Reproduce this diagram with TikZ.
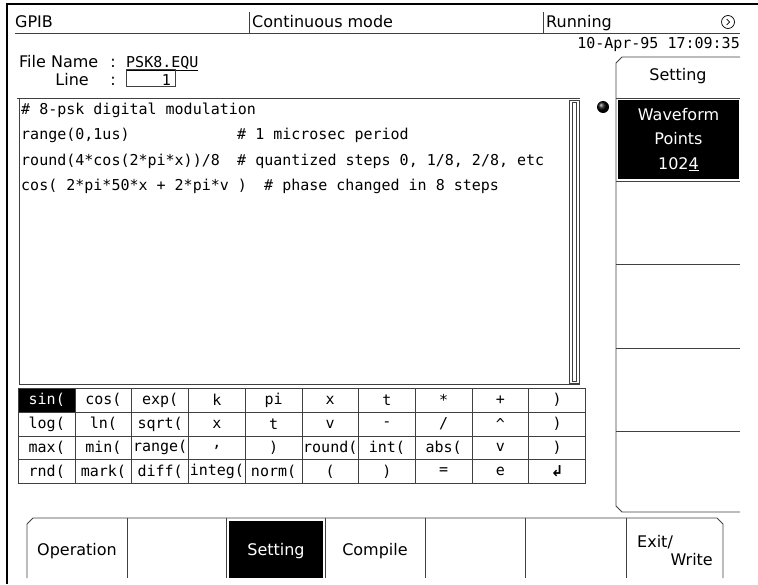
\documentclass[tikz,border=0pt]{standalone}
\usepackage{fontspec}
\setsansfont{DejaVu Sans}
\setmonofont{DejaVu Sans Mono}
\usetikzlibrary{positioning, calc}
\tikzset{
  scr/.style={draw=black!75, line width=0.8pt},
  ui/.style={font=\sffamily\fontsize{16}{24.5}\selectfont, inner sep=0pt},
  mono/.style={font=\ttfamily\fontsize{15}{18}\selectfont, inner sep=0pt},
  src/.style={mono, anchor=base west},
  keycap/.style={draw=black!75, line width=0.8pt, mono, minimum width=56.7pt, minimum height=23.75pt, inner sep=0pt, anchor=north west},
  keyhot/.style={fill=black, text=white},
  softkey/.style={fill=black, text=white, ui, align=center},
}

\begin{document}
\begin{tikzpicture}[x=1pt, y=-1pt]
  \useasboundingbox (0,0) rectangle (758,584);

  % status bar
  \draw[draw=black, line width=1.2pt] (7,584) -- (7,4) -- (758,4);
  \draw[scr] (15,33) -- (740,33);
  \draw[scr] (249,12) -- (249,33);
  \draw[scr] (543,12) -- (543,33);
  \node[ui, anchor=base west] (gpib) at (15,27) {GPIB};
  \node[ui, anchor=base west] (mode) at (252,27) {Continuous mode};
  \node[ui, anchor=base west] (state) at (546,27) {Running};
  \node[draw, circle, minimum size=13pt, inner sep=0pt, line width=0.7pt] (clock) at (728,22) {};
  \draw[line width=0.7pt] ($(clock.center)+(-1.5,-3)$) -- ($(clock.center)+(1.5,0)$) -- ($(clock.center)+(-1.5,3)$);
  \node[mono, anchor=base east] (date) at (740,48) {10-Apr-95 17:09:35};

  % file header
  \node[ui, anchor=base west] (fname) at (19,67) {File Name};
  \node[ui, anchor=base] (fcolon) at (113,67) {:};
  \node[mono, anchor=base west] (fval) at (126,67) {\underline{PSK8.EQU}};
  \node[ui, anchor=base east] (lineno) at (89,85) {Line};
  \node[ui, anchor=base] (lcolon) at (113,85) {:};
  \node[draw=black!75, line width=0.8pt, minimum width=49pt, minimum height=17pt, inner sep=0pt, anchor=north west] (lbox) at (126,69) {};
  \node[mono, anchor=base east] (lval) at (171,85) {1};

  % editor
  \draw[scr] (17,98) -- (580,98);
  \draw[scr] (19,98) -- (19,384) -- (580,384);
  \draw[scr] (569,100) rectangle (579,383);
  \draw[scr, line width=0.6pt] (572,102) rectangle (576.5,381);
  \node[src] (l1) at (21,114) {\# 8-psk digital modulation};
  \node[src] (l2) at (21,139) {range(0,1us)};
  \node[src] (c2) at (237,139) {\# 1 microsec period};
  \node[src] (l3) at (21,165) {round(4*cos(2*pi*x))/8};
  \node[src] (c3) at (237,165) {\# quantized steps 0, 1/8, 2/8, etc};
  \node[src] (l4) at (21,190) {cos( 2*pi*50*x + 2*pi*v )};
  \node[src] (c4) at (264,190) {\# phase changed in 8 steps};

  % keypad
  \node[keycap, keyhot] (k1-1) at (18,388) {sin(};
  \foreach \k [count=\c from 2] in {{cos(},{exp(},k,pi,x,t,*,+,{)}}
    \node[keycap] (k1-\c) at ({18+(\c-1)*56.7},388) {\k};
  \foreach \k [count=\c] in {{log(},{ln(},{sqrt(},x,t,v,-,/,{\textasciicircum},{)}}
    \node[keycap] (k2-\c) at ({18+(\c-1)*56.7},411.75) {\k};
  \foreach \k [count=\c] in {{max(},{min(},{range(},{,},{)},{round(},{int(},{abs(},v,{)}}
    \node[keycap] (k3-\c) at ({18+(\c-1)*56.7},435.5) {\k};
  \foreach \k [count=\c] in {{rnd(},{mark(},{diff(},{integ(},{norm(},{(},{)},=,e,{\sffamily\bfseries ↲}}
    \node[keycap] (k4-\c) at ({18+(\c-1)*56.7},459.25) {\k};

  % side menu
  \draw[scr] (740,57) -- (622,57) -- (616,63) -- (616,506) -- (622,512) -- (740,512);
  \node[ui, anchor=base] (side) at (678,80) {Setting};
  \foreach \y in {98,181,264,348,431}
    \draw[scr] (616,\y) -- (740,\y);
  \node[softkey, minimum width=121pt, minimum height=79pt] (wfm) at (678.5,139.5) {Waveform\\Points\\102\underline{4}};
  \node[circle, shade, ball color=black, minimum size=12pt, inner sep=0pt] (mark) at (603,107) {};

  % bottom menu
  \draw[scr] (27,578) -- (27,524) -- (33,518) -- (717,518) -- (723,524) -- (723,578);
  \foreach \x in {127,226,325,425,525,626}
    \draw[scr] (\x,518) -- (\x,578);
  \node[fill=black, minimum width=94pt, minimum height=57pt, inner sep=0pt] (sethot) at (276,549.5) {};
  \node[ui, text=white, anchor=base] (setk) at (276,555) {Setting};
  \node[ui, anchor=base] (opk) at (77,555) {Operation};
  \node[ui, anchor=base] (compk) at (375,555) {Compile};
  \node[ui, anchor=base west] (exitk) at (637,547) {Exit/};
  \node[ui, anchor=base east] (writek) at (713,565) {Write};
\end{tikzpicture}
\end{document}
